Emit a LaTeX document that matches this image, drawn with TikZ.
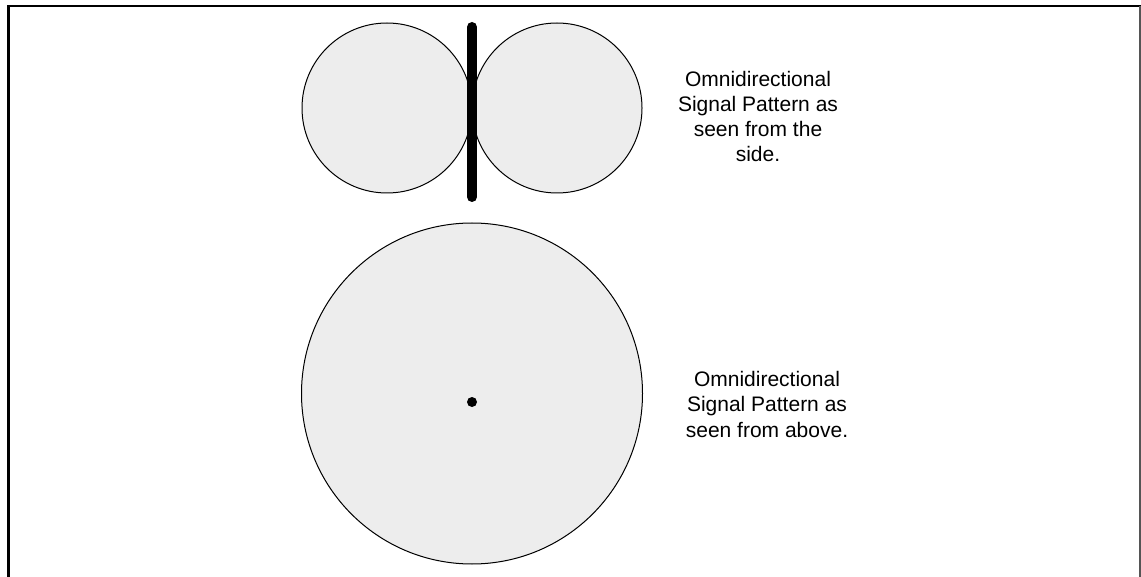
\documentclass[tikz,border=0pt]{standalone}
\usepackage{fontspec}
\setmainfont{Liberation Sans}
\definecolor{lobe}{HTML}{EDEDED}
\definecolor{rightedge}{HTML}{555555}
\begin{document}
\begin{tikzpicture}[x=1pt,y=-1pt,
  lobe/.style={circle,draw=black,line width=1pt,fill=lobe,inner sep=0pt},
  label/.style={align=center,inner sep=0pt,anchor=base,font=\fontsize{21}{25.3}\selectfont}]
\useasboundingbox (0,0) rectangle (1141,577);
% frame
\draw[line width=2.5pt] (8.5,577) -- (8.5,6) -- (1141,6);
\draw[rightedge,line width=1.5pt] (1140.2,6) -- (1140.2,577);
% side view
\node[lobe,minimum size=170pt] (left) at (387,108) {};
\node[lobe,minimum size=170pt] (right) at (557,108) {};
\coordinate (bartop) at (472,27);
\coordinate (barbot) at (472,197);
\draw[line width=10pt,line cap=round] (bartop) -- (barbot);
% top view
\node[lobe,minimum size=341pt] (big) at (472,393.5) {};
\node[circle,fill=black,inner sep=0pt,minimum size=10pt] (dot) at (472,402) {};
% labels
\node[label] (side) at (758,162) {Omnidirectional\\Signal Pattern as\\seen from the\\side.};
\node[label] (above) at (767,437) {Omnidirectional\\Signal Pattern as\\seen from above.};
\end{tikzpicture}
\end{document}
